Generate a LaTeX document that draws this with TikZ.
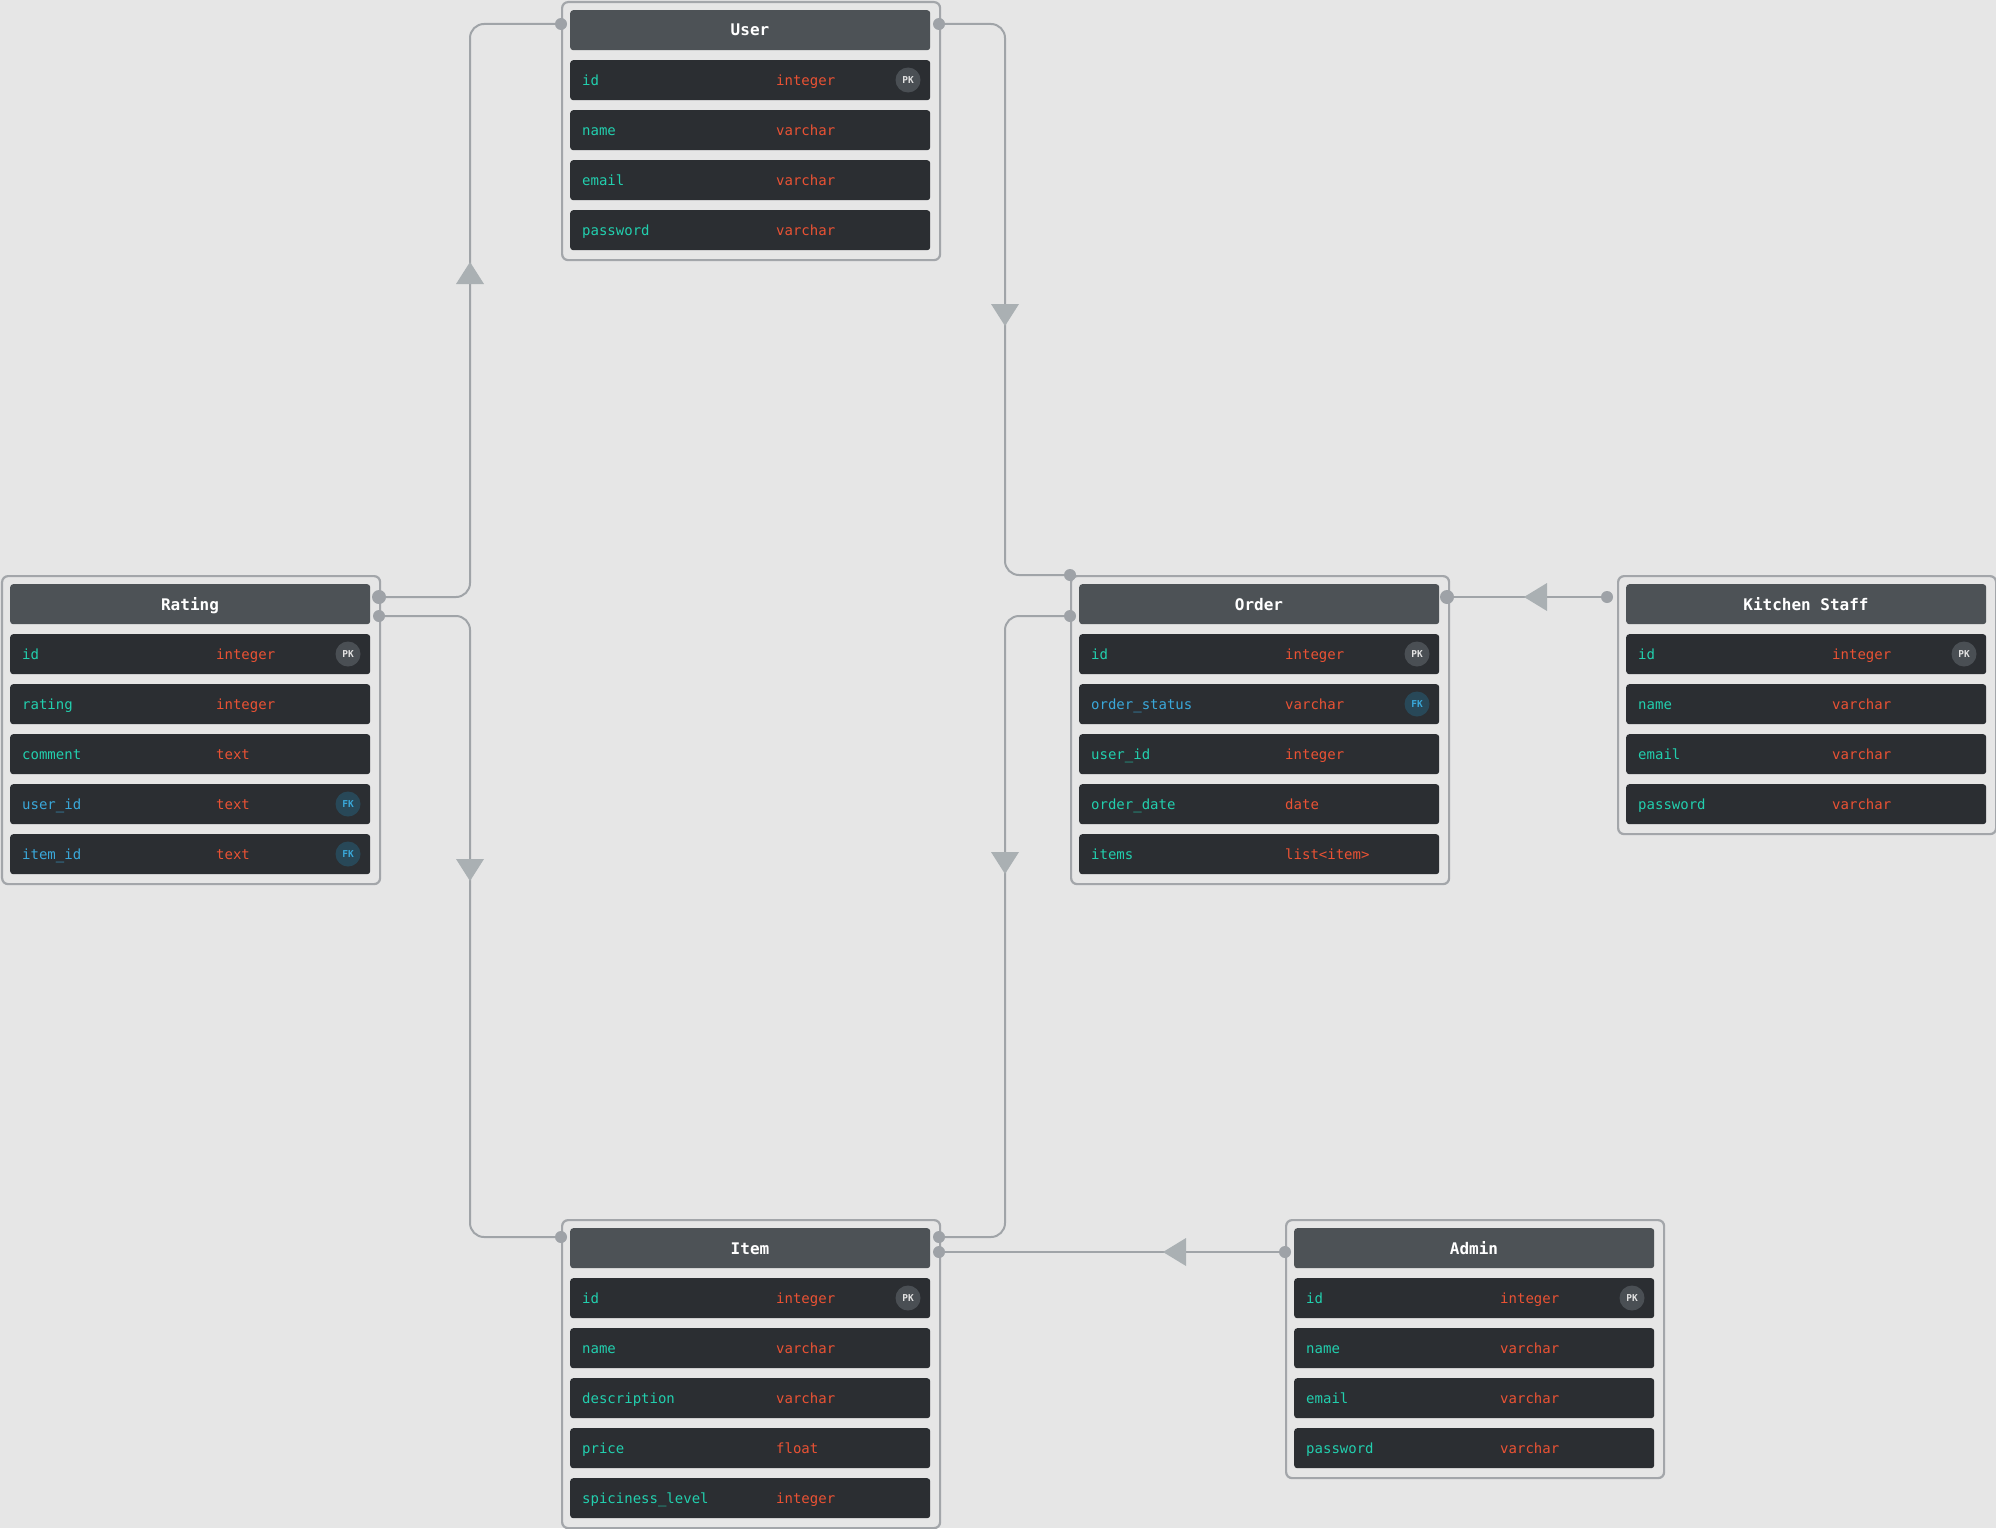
\documentclass[tikz,border=0pt]{standalone}
\usepackage{fontspec}
\setmonofont{DejaVu Sans Mono}
\definecolor{bgcol}{HTML}{E6E6E6}
\definecolor{boxline}{HTML}{A3A6AA}
\definecolor{headcol}{HTML}{4D5256}
\definecolor{rowcol}{HTML}{2B2E32}
\definecolor{fieldcol}{HTML}{22CFAE}
\definecolor{fkcol}{HTML}{3AA8DA}
\definecolor{typecol}{HTML}{EA5234}
\definecolor{pkfill}{HTML}{4A4F54}
\definecolor{pktext}{HTML}{E2E2E2}
\definecolor{fkfill}{HTML}{284858}
\definecolor{conncol}{HTML}{A0A4A8}
\definecolor{trifill}{HTML}{AAB0B3}
\definecolor{dotcol}{HTML}{9EA2A7}
\tikzset{
  tablebox/.style={draw=boxline, line width=2.2pt, rounded corners=6pt, minimum width=378pt, inner sep=0pt},
  headbox/.style={fill=headcol, rounded corners=3pt, minimum width=360pt, minimum height=40pt, inner sep=0pt},
  rowbox/.style={fill=rowcol, rounded corners=3pt, minimum width=360pt, minimum height=40pt, inner sep=0pt},
  headtext/.style={text=white, font=\ttfamily\bfseries\fontsize{16}{18}\selectfont, inner sep=0pt, anchor=base},
  fieldtext/.style={font=\ttfamily\fontsize{14}{16}\selectfont, inner sep=0pt, anchor=base west},
  typetext/.style={text=typecol, font=\ttfamily\fontsize{14}{16}\selectfont, inner sep=0pt, anchor=base west},
  badge/.style={circle, minimum size=25pt, inner sep=0pt, font=\ttfamily\bfseries\fontsize{9.5}{10}\selectfont},
  conn/.style={draw=conncol, line width=2pt, rounded corners=14pt},
  dot/.style={circle, fill=dotcol, minimum size=12pt, inner sep=0pt},
  bigdot/.style={circle, fill=dotcol, minimum size=14pt, inner sep=0pt},
  tri/.style={fill=trifill},
}
% #1 name, #2 x, #3 y, #4 number of rows, #5 title, #6 rows name/type/badge(0,1=PK,2=FK)
\newcommand\ertable[6]{%
  \node[tablebox, minimum height={58+50*#4}, anchor=north west] (#1) at (#2,#3) {};
  \node[headbox, anchor=north west] (#1-h) at ({#2+9},{#3+9}) {};
  \node[headtext] (#1-title) at ({#2+189},{#3+35}) {#5};
  \foreach \fn/\ft/\fb [count=\i from 0] in {#6} {
    \node[rowbox, anchor=north west] (#1-r\i) at ({#2+9},{#3+59+50*\i}) {};
    \ifnum\fb=2 \def\fcol{fkcol}\else\def\fcol{fieldcol}\fi
    \node[fieldtext, text=\fcol] (#1-n\i) at ({#2+21},{#3+84+50*\i}) {\fn};
    \node[typetext] (#1-t\i) at ({#2+215},{#3+84+50*\i}) {\ft};
    \ifnum\fb=1
      \node[badge, fill=pkfill, text=pktext] (#1-b\i) at ({#2+347},{#3+79+50*\i}) {PK};
    \fi
    \ifnum\fb=2
      \node[badge, fill=fkfill, text=fkcol] (#1-b\i) at ({#2+347},{#3+79+50*\i}) {FK};
    \fi
  }%
}
\begin{document}
\begin{tikzpicture}[x=1pt,y=-1pt]
\fill[bgcol] (0,0) rectangle (1996,1528);
\useasboundingbox (0,0) rectangle (1996,1528);

\ertable{user}{561}{1}{4}{User}{id/integer/1, name/varchar/0, email/varchar/0, password/varchar/0}
\ertable{rating}{1}{575}{5}{Rating}{id/integer/1, rating/integer/0, comment/text/0, user\_id/text/2, item\_id/text/2}
\ertable{order}{1070}{575}{5}{Order}{id/integer/1, order\_status/varchar/2, user\_id/integer/0, order\_date/date/0, items/list<item>/0}
\ertable{ks}{1617}{575}{4}{Kitchen Staff}{id/integer/1, name/varchar/0, email/varchar/0, password/varchar/0}
\ertable{item}{561}{1219}{5}{Item}{id/integer/1, name/varchar/0, description/varchar/0, price/float/0, spiciness\_level/integer/0}
\ertable{admin}{1285}{1219}{4}{Admin}{id/integer/1, name/varchar/0, email/varchar/0, password/varchar/0}

% connection points
\coordinate (user-l) at (561,24);
\coordinate (user-r) at (939,24);
\coordinate (rating-c1) at (379,597);
\coordinate (rating-c2) at (379,616);
\coordinate (order-t) at (1070,575);
\coordinate (order-l) at (1070,616);
\coordinate (order-r) at (1447,597);
\coordinate (ks-l) at (1607,597);
\coordinate (item-l) at (561,1237);
\coordinate (item-c1) at (939,1237);
\coordinate (item-c2) at (939,1252);
\coordinate (admin-l) at (1285,1252);

% connectors
\draw[conn] (user-l) -- ++(-91,0) |- (rating-c1);
\draw[conn] (user-r) -- ++(66,0) |- (order-t);
\draw[conn] (rating-c2) -- ++(91,0) |- (item-l);
\draw[conn] (order-l) -- ++(-65,0) |- (item-c1);
\draw[conn] (item-c2) -- (admin-l);
\draw[conn] (order-r) -- (ks-l);

% arrow triangles
\fill[tri] (470,262) -- (484,284) -- (456,284) -- cycle;
\fill[tri] (1005,326) -- (1019,304) -- (991,304) -- cycle;
\fill[tri] (470,881) -- (484,859) -- (456,859) -- cycle;
\fill[tri] (1005,874) -- (1019,852) -- (991,852) -- cycle;
\fill[tri] (1524,597) -- (1547,583) -- (1547,611) -- cycle;
\fill[tri] (1163,1252) -- (1186,1238) -- (1186,1266) -- cycle;

% dots
\node[dot] (d1) at (user-l) {};
\node[dot] (d2) at (user-r) {};
\node[bigdot] (d3) at (rating-c1) {};
\node[dot] (d4) at (rating-c2) {};
\node[dot] (d5) at (order-t) {};
\node[dot] (d6) at (order-l) {};
\node[bigdot] (d7) at (order-r) {};
\node[dot] (d8) at (ks-l) {};
\node[dot] (d9) at (item-l) {};
\node[dot] (d10) at (item-c1) {};
\node[dot] (d11) at (item-c2) {};
\node[dot] (d12) at (admin-l) {};
\end{tikzpicture}
\end{document}
